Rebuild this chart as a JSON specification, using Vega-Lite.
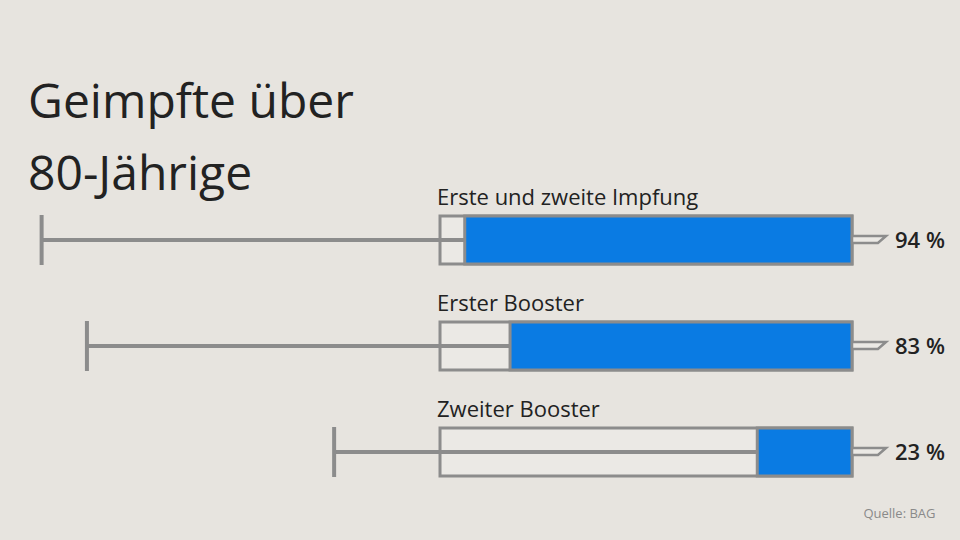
{
  "$schema": "https://vega.github.io/schema/vega-lite/v6.json",
  "width": 960,
  "height": 540,
  "autosize": {"type": "none"},
  "padding": 0,
  "background": "#e7e4df",
  "config": {"view": {"stroke": null}, "font": "Open Sans"},
  "title": {
    "text": ["Geimpfte über", "80-Jährige"],
    "anchor": "start",
    "frame": "group",
    "orient": "top",
    "fontSize": 48,
    "fontWeight": 400,
    "lineHeight": 72,
    "color": "#222222",
    "dx": 28,
    "offset": -200
  },
  "data": {
    "values": [
      {"label": "Erste und zweite Impfung", "value": 94},
      {"label": "Erster Booster", "value": 83},
      {"label": "Zweiter Booster", "value": 23}
    ]
  },
  "transform": [
    {"calculate": "datum.value + 102.7", "as": "plungerEnd"},
    {"calculate": "datum.value + ' %'", "as": "pct"},
    {"calculate": "0", "as": "empty"},
    {"calculate": "100", "as": "full"}
  ],
  "encoding": {
    "y": {
      "field": "label",
      "type": "nominal",
      "sort": null,
      "scale": {"range": [216, 476], "paddingInner": 0.5472, "paddingOuter": 0},
      "axis": null
    }
  },
  "layer": [
    {
      "mark": {"type": "bar", "fill": "#ebe9e5", "stroke": "#8c8c8c", "strokeWidth": 3},
      "encoding": {
        "x": {
          "field": "empty",
          "type": "quantitative",
          "scale": {"domain": [-26.21, 206.8], "reverse": true, "nice": false, "zero": false},
          "axis": {
            "labels": false,
            "ticks": false,
            "domain": false,
            "grid": false,
            "title": "Quelle: BAG",
            "titleAnchor": null,
            "titleX": 935,
            "titleAlign": "right",
            "titleY": -23,
            "titleBaseline": "alphabetic",
            "titleFontSize": 13,
            "titleFontWeight": 400,
            "titleColor": "#8a8a8a"
          }
        },
        "x2": {"field": "full"}
      }
    },
    {
      "mark": {"type": "rule", "color": "#8c8c8c", "strokeWidth": 4},
      "encoding": {
        "x": {"field": "value", "type": "quantitative"},
        "x2": {"field": "plungerEnd"}
      }
    },
    {
      "mark": {"type": "tick", "color": "#8c8c8c", "thickness": 4, "size": 50, "opacity": 1},
      "encoding": {
        "x": {"field": "plungerEnd", "type": "quantitative"}
      }
    },
    {
      "mark": {"type": "bar", "fill": "#0a7be3", "stroke": "#8c8c8c", "strokeWidth": 3},
      "encoding": {
        "x": {"field": "empty", "type": "quantitative"},
        "x2": {"field": "value"}
      }
    },
    {
      "mark": {
        "type": "point",
        "shape": "M-1,-0.22 L0.89,-0.22 L0.44,0.17 L-1,0.17 Z",
        "size": 1296,
        "filled": true,
        "fill": "#ebe9e5",
        "stroke": "#8c8c8c",
        "strokeWidth": 2.5,
        "opacity": 1,
        "xOffset": 18
      },
      "encoding": {
        "x": {"field": "empty", "type": "quantitative"}
      }
    },
    {
      "mark": {"type": "text", "align": "left", "baseline": "alphabetic", "dx": -3, "dy": -35, "fontSize": 22, "color": "#222222"},
      "encoding": {
        "x": {"field": "full", "type": "quantitative"},
        "text": {"field": "label"}
      }
    },
    {
      "mark": {"type": "text", "align": "left", "baseline": "middle", "dx": 43, "dy": 1, "fontSize": 22, "fontWeight": 600, "color": "#222222"},
      "encoding": {
        "x": {"field": "empty", "type": "quantitative"},
        "text": {"field": "pct"}
      }
    }
  ]
}
